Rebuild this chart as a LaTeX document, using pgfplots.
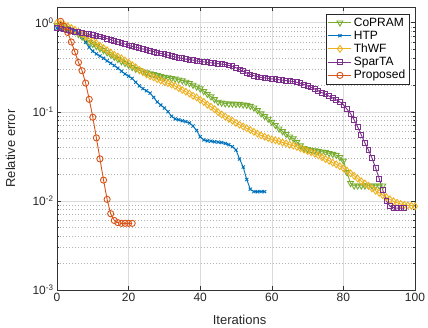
\documentclass[border=0pt]{standalone}
\usepackage{pgfplots}
\pgfplotsset{compat=1.18}
\usepackage{fontspec}
\setmainfont{Liberation Sans}
\definecolor{mblue}{rgb}{0,0.447,0.741}
\definecolor{morange}{rgb}{0.85,0.325,0.098}
\definecolor{myellow}{rgb}{0.929,0.694,0.125}
\definecolor{mpurple}{rgb}{0.494,0.184,0.556}
\definecolor{mgreen}{rgb}{0.466,0.674,0.188}
\begin{document}
\begin{tikzpicture}
\begin{axis}[
  at={(0pt,0pt)}, anchor=south west,
  scale only axis, width=358pt, height=283pt,
  ymode=log, xmin=0, xmax=100, ymin=1e-3, ymax=1.5,
  xtick={0,20,40,60,80,100},
  ytick={1e-3,1e-2,1e-1,1},
  yticklabels={10\textsuperscript{-3},10\textsuperscript{-2},10\textsuperscript{-1},10\textsuperscript{0}},
  /pgf/number format/assume math mode=true,
  tick label style={font=\fontsize{12}{14}\selectfont, text=black!85},
  xlabel={Iterations}, ylabel={Relative error},
  label style={font=\fontsize{13}{15}\selectfont, text=black!85},
  xlabel style={at={(axis description cs:0.51,0)}, anchor=center, yshift=-30pt},
  ylabel style={at={(axis description cs:-0.13,0.5)}, anchor=center},
  axis line style={black!80, line width=0.7pt},
  tick style={black!80, line width=0.5pt},
  tick align=inside, major tick length=3.6pt, minor tick length=2pt,
  minor x tick num=0,
  xmajorgrids, ymajorgrids, yminorgrids,
  major grid style={black!14, line width=0.5pt},
  minor grid style={black!30, line width=0.5pt, dash pattern=on 0.8pt off 2.2pt},
  legend style={at={(rel axis cs:1,1)}, anchor=north east, xshift=-6pt, yshift=-7pt,
    draw=black!85, line width=0.5pt, font=\fontsize{12}{14}\selectfont, fill=white,
    inner sep=1.5pt, row sep=-0.8pt},
  legend cell align=left,
  legend image code/.code={\draw[mark repeat=2,mark phase=2,#1] plot coordinates {(0pt,0pt) (11.5pt,0pt) (23pt,0pt)};},
  every axis plot/.append style={line width=0.9pt},
]
\addplot[mgreen, mark=triangle, mark size=3.4pt, mark options={rotate=180, solid}] coordinates {
(0,0.933)(1,0.923)(2,0.902)(3,0.871)(4,0.832)(5,0.794)(6,0.741)(7,0.692)(8,0.646)(9,0.603)
(10,0.575)(11,0.543)(12,0.513)(13,0.490)(14,0.462)(15,0.437)(16,0.412)(17,0.389)(18,0.367)(19,0.351)
(20,0.335)(21,0.316)(22,0.302)(23,0.292)(24,0.282)(25,0.275)(26,0.269)(27,0.263)(28,0.257)(29,0.251)
(30,0.245)(31,0.243)(32,0.237)(33,0.234)(34,0.229)(35,0.224)(36,0.216)(37,0.209)(38,0.200)(39,0.191)
(40,0.182)(41,0.170)(42,0.158)(43,0.148)(44,0.138)(45,0.129)(46,0.126)(47,0.124)(48,0.123)(49,0.123)
(50,0.122)(51,0.122)(52,0.120)(53,0.119)(54,0.116)(55,0.111)(56,0.104)(57,0.0955)(58,0.0891)(59,0.0832)
(60,0.0767)(61,0.0708)(62,0.0646)(63,0.0603)(64,0.0562)(65,0.0525)(66,0.0501)(67,0.0457)(68,0.0417)(69,0.0389)
(70,0.0380)(71,0.0372)(72,0.0367)(73,0.0363)(74,0.0355)(75,0.0351)(76,0.0343)(77,0.0335)(78,0.0327)(79,0.0309)
(80,0.0282)(81,0.0209)(82,0.0158)(83,0.0148)(84,0.0148)(85,0.0148)(86,0.0148)(87,0.0148)(88,0.0148)(89,0.0148)
(90,0.0148)(91,0.0148)};
\addlegendentry{CoPRAM}
\addplot[mblue, mark=x, mark size=2.2pt] coordinates {
(0,0.871)(1,0.861)(2,0.851)(3,0.841)(4,0.822)(5,0.804)(6,0.759)(7,0.690)(8,0.600)(9,0.530)
(10,0.479)(11,0.447)(12,0.422)(13,0.398)(14,0.372)(15,0.351)(16,0.331)(17,0.309)(18,0.285)(19,0.266)
(20,0.251)(21,0.237)(22,0.214)(23,0.195)(24,0.182)(25,0.172)(26,0.162)(27,0.145)(28,0.129)(29,0.119)
(30,0.110)(31,0.100)(32,0.0891)(33,0.0832)(34,0.0813)(35,0.0794)(36,0.0776)(37,0.0750)(38,0.0692)(39,0.0617)
(40,0.0525)(41,0.0484)(42,0.0473)(43,0.0468)(44,0.0462)(45,0.0457)(46,0.0452)(47,0.0442)(48,0.0427)(49,0.0407)
(50,0.0372)(51,0.0295)(52,0.0240)(53,0.0174)(54,0.0135)(55,0.0127)(56,0.0127)(57,0.0127)(58,0.0127)};
\addlegendentry{HTP}
\addplot[myellow, mark=diamond, mark size=3.4pt, mark options={solid}] coordinates {
(0,1.0)(1,0.977)(2,0.944)(3,0.912)(4,0.871)(5,0.832)(6,0.785)(7,0.741)(8,0.700)(9,0.661)
(10,0.624)(11,0.589)(12,0.550)(13,0.519)(14,0.490)(15,0.462)(16,0.437)(17,0.417)(18,0.398)(19,0.376)
(20,0.355)(21,0.335)(22,0.316)(23,0.295)(24,0.279)(25,0.263)(26,0.251)(27,0.243)(28,0.232)(29,0.224)
(30,0.216)(31,0.209)(32,0.202)(33,0.195)(34,0.184)(35,0.176)(36,0.168)(37,0.160)(38,0.151)(39,0.145)
(40,0.136)(41,0.129)(42,0.120)(43,0.114)(44,0.107)(45,0.0989)(46,0.0933)(47,0.0881)(48,0.0832)(49,0.0794)
(50,0.0750)(51,0.0716)(52,0.0684)(53,0.0653)(54,0.0624)(55,0.0596)(56,0.0569)(57,0.0543)(58,0.0525)(59,0.0507)
(60,0.0490)(61,0.0479)(62,0.0468)(63,0.0452)(64,0.0442)(65,0.0427)(66,0.0417)(67,0.0403)(68,0.0389)(69,0.0376)
(70,0.0363)(71,0.0351)(72,0.0339)(73,0.0324)(74,0.0309)(75,0.0295)(76,0.0282)(77,0.0269)(78,0.0257)(79,0.0245)
(80,0.0232)(81,0.0219)(82,0.0204)(83,0.0191)(84,0.0178)(85,0.0166)(86,0.0157)(87,0.0148)(88,0.0138)(89,0.0130)
(90,0.0123)(91,0.0116)(92,0.0110)(93,0.0104)(94,0.00989)(95,0.00955)(96,0.00923)(97,0.00902)(98,0.00891)(99,0.00881)
(100,0.00871)};
\addlegendentry{ThWF}
\addplot[mpurple, mark=square, mark size=2.4pt, mark options={solid}] coordinates {
(0,0.871)(1,0.861)(2,0.841)(3,0.832)(4,0.813)(5,0.794)(6,0.785)(7,0.767)(8,0.759)(9,0.741)
(10,0.724)(11,0.708)(12,0.700)(13,0.684)(14,0.661)(15,0.646)(16,0.624)(17,0.610)(18,0.589)(19,0.575)
(20,0.556)(21,0.543)(22,0.531)(23,0.519)(24,0.507)(25,0.495)(26,0.484)(27,0.473)(28,0.462)(29,0.452)
(30,0.442)(31,0.432)(32,0.422)(33,0.412)(34,0.403)(35,0.398)(36,0.389)(37,0.385)(38,0.380)(39,0.372)
(40,0.367)(41,0.363)(42,0.359)(43,0.355)(44,0.351)(45,0.347)(46,0.343)(47,0.339)(48,0.331)(49,0.324)
(50,0.313)(51,0.299)(52,0.285)(53,0.272)(54,0.263)(55,0.254)(56,0.248)(57,0.243)(58,0.240)(59,0.237)
(60,0.234)(61,0.232)(62,0.229)(63,0.226)(64,0.224)(65,0.221)(66,0.219)(67,0.214)(68,0.209)(69,0.202)
(70,0.195)(71,0.188)(72,0.180)(73,0.172)(74,0.164)(75,0.157)(76,0.150)(77,0.143)(78,0.136)(79,0.129)
(80,0.120)(81,0.107)(82,0.0955)(83,0.0813)(84,0.0676)(85,0.0550)(86,0.0447)(87,0.0372)(88,0.0302)(89,0.0234)
(90,0.0178)(91,0.0132)(92,0.0100)(93,0.0087)(94,0.0084)(95,0.0083)(96,0.0083)(97,0.0083)};
\addlegendentry{SparTA}
\addplot[morange, mark=o, mark size=3.1pt, mark options={solid}] coordinates {
(1,1.035)(2,0.908)(3,0.778)(4,0.607)(5,0.469)(6,0.358)(7,0.289)(8,0.210)(9,0.138)(10,0.087)
(11,0.051)(12,0.0296)(13,0.0171)(14,0.0104)(15,0.00718)(16,0.00603)(17,0.0057)(18,0.0056)(19,0.0056)(20,0.0056)
(21,0.0056)};
\addlegendentry{Proposed}
\end{axis}
\pgfresetboundingbox
\path[use as bounding box] (-57pt,-38pt) rectangle (371pt,290pt);
\end{tikzpicture}
\end{document}
